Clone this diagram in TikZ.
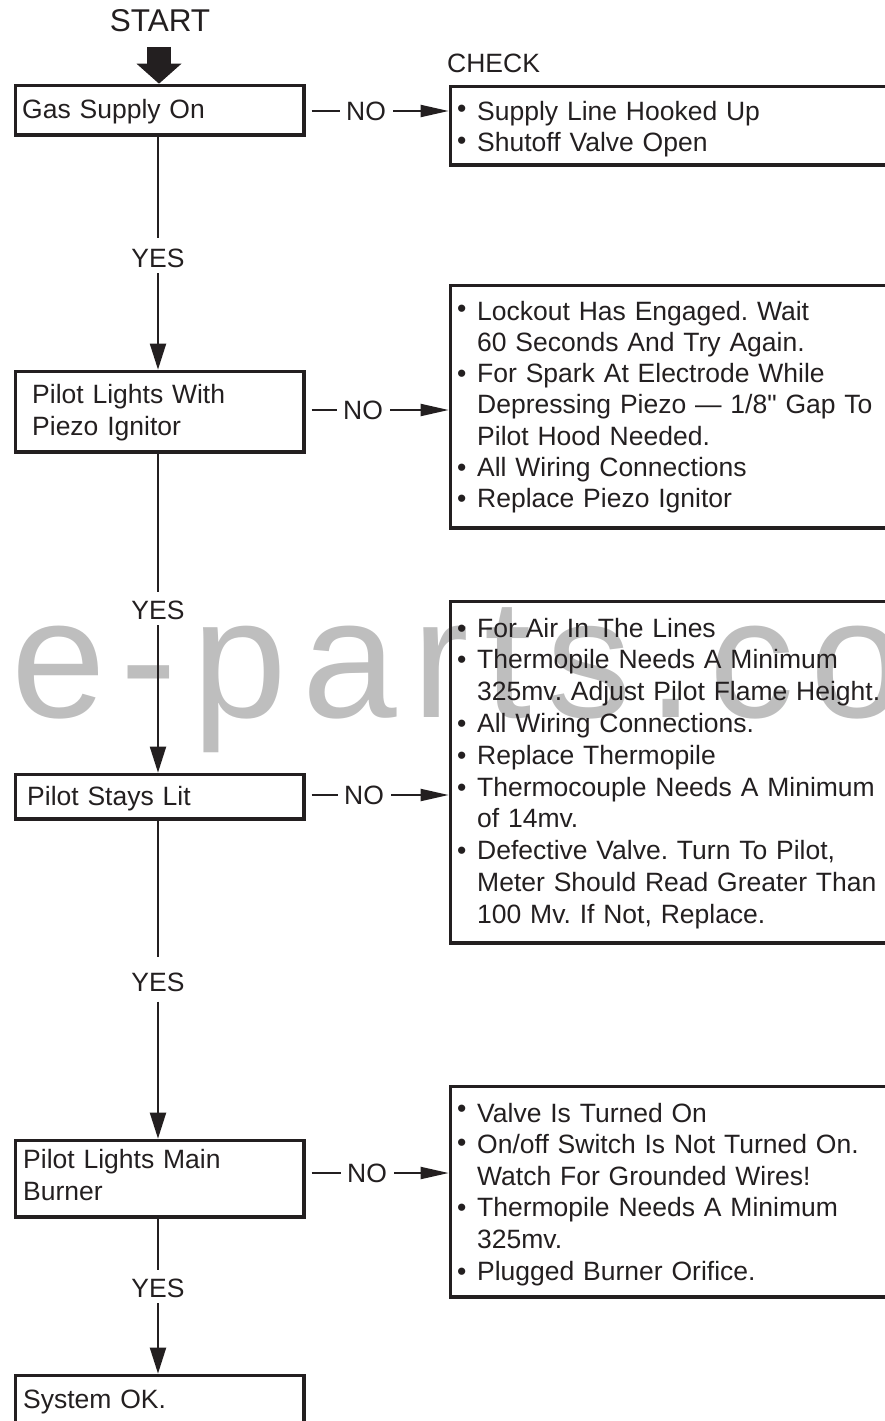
\documentclass[tikz,border=0pt]{standalone}
\usepackage{fontspec}
\setmainfont{Liberation Sans}[Ligatures=TeXOff]
\newfontfamily\wmfont{Liberation Sans}[LetterSpace=9]
\usetikzlibrary{arrows.meta}
\definecolor{ink}{HTML}{231F20}
\definecolor{wm}{HTML}{BEBEBE}
\newcommand{\bul}{\makebox[20pt][l]{\textbullet}}
\newcommand{\bulup}[1]{\makebox[20pt][l]{\raisebox{#1}{\textbullet}}}
\newcommand{\ind}{\hspace*{20pt}}
\frenchspacing
\begin{document}
\frenchspacing
\begin{tikzpicture}[x=1pt,y=-1pt,
  box/.style={draw=ink, line width=3.3pt, inner sep=0pt, anchor=north west},
  txt/.style={anchor=base west, inner sep=0pt, align=left, text width=430pt, text=ink},
  lbl/.style={inner sep=0pt, text=ink},
  conn/.style={draw=ink, line width=2pt},
  varrow/.style={conn, -{Triangle[length=26pt,width=16pt]}},
  harrow/.style={conn, -{Triangle[length=28pt,width=12pt]}},
  font=\fontsize{26.5}{32}\selectfont\frenchspacing]
\useasboundingbox (0,0) rectangle (885,1421);
\clip (0,0) rectangle (885,1421);

% watermark
\node[anchor=base west, inner sep=0pt, text=wm, font=\wmfont\fontsize{170}{170}\selectfont] (wmark) at (11,717) {e-parts.co};

% left boxes
\node[box, minimum width=288.7pt, minimum height=49.7pt] (b1) at (13.65,83.65) {};
\node[box, minimum width=288.7pt, minimum height=80.7pt] (b2) at (13.65,369.65) {};
\node[box, minimum width=288.7pt, minimum height=44.7pt] (b3) at (13.65,772.65) {};
\node[box, minimum width=288.7pt, minimum height=76.7pt] (b4) at (13.65,1138.65) {};
\node[box, minimum width=288.7pt, minimum height=76.7pt] (b5) at (13.65,1373.65) {};

\node[txt] (t1) at (22,118) {Gas Supply On};
\node[txt] (t2) at (32,403) {Pilot Lights With\\Piezo Ignitor};
\node[txt] (t3) at (27,805) {Pilot Stays Lit};
\node[txt] (t4) at (23,1168) {Pilot Lights Main\\Burner};
\node[txt] (t5) at (23,1408) {System OK.};

% right boxes
\node[box, minimum width=480pt, minimum height=78.7pt] (r1) at (448.65,84.65) {};
\node[box, minimum width=480pt, minimum height=242.7pt] (r2) at (448.65,283.65) {};
\node[box, minimum width=480pt, minimum height=341.7pt] (r3) at (448.65,599.65) {};
\node[box, minimum width=480pt, minimum height=210.7pt] (r4) at (448.65,1084.65) {};

\node[txt] (rt1) at (457,120) {\bulup{3pt}Supply Line Hooked Up\\\bulup{3pt}Shutoff Valve Open};
\node[txt, font=\fontsize{26.5}{31.3}\selectfont\frenchspacing] (rt2) at (457,320) {\bulup{3pt}Lockout Has Engaged. Wait\\\ind 60 Seconds And Try Again.\\\bul For Spark At Electrode While\\\ind Depressing Piezo — 1/8" Gap To\\\ind Pilot Hood Needed.\\\bul All Wiring Connections\\\bul Replace Piezo Ignitor};
\node[txt, font=\fontsize{26.5}{31.8}\selectfont\frenchspacing] (rt3) at (457,637) {\bul For Air In The Lines\\\bul Thermopile Needs A Minimum\\\ind 325mv. Adjust Pilot Flame Height.\\\bul All Wiring Connections.\\\bul Replace Thermopile\\\bul Thermocouple Needs A Minimum\\\ind of 14mv.\\\bul Defective Valve. Turn To Pilot,\\\ind Meter Should Read Greater Than\\\ind 100 Mv. If Not, Replace.};
\node[txt, font=\fontsize{26.5}{31.6}\selectfont\frenchspacing] (rt4) at (457,1122) {\bulup{5pt}Valve Is Turned On\\\bulup{2pt}On/off Switch Is Not Turned On.\\\ind Watch For Grounded Wires!\\\bul Thermopile Needs A Minimum\\\ind 325mv.\\\bul Plugged Burner Orifice.};

% top labels
\node[lbl, anchor=base, font=\fontsize{31.5}{36}\selectfont] (start) at (160,32) {START};
\node[lbl, anchor=base west] (check) at (447,73) {CHECK};
\coordinate (s0) at (159,47);
\draw[draw=ink, line width=24pt, -{Triangle[length=20pt,width=45pt,line width=0pt]}] (s0) -- (s0 |- b1.north);

% NO labels and connectors
\node[lbl] (no1) at (366,111) {NO};
\node[lbl] (no2) at (363,410) {NO};
\node[lbl] (no3) at (364,795) {NO};
\node[lbl] (no4) at (367,1173) {NO};
\foreach \b/\n/\r in {b1/no1/r1, b2/no2/r2, b3/no3/r3, b4/no4/r4} {
  \draw[conn, shorten <=6pt, shorten >=6pt] (\b.east |- \n) -- (\n.west);
  \draw[harrow, shorten <=7pt] (\n.east) -- (\r.west |- \n);
}

% YES labels and connectors
\node[lbl] (yes1) at (158,258) {YES};
\node[lbl] (yes2) at (158,610) {YES};
\node[lbl] (yes3) at (158,982) {YES};
\node[lbl] (yes4) at (158,1288) {YES};
\draw[conn, shorten >=10pt] (b1.south -| yes1) -- (yes1.north);
\draw[varrow, shorten <=5.5pt] (yes1.south) -- (b2.north -| yes1);
\draw[conn, shorten >=8.5pt] (b2.south -| yes2) -- (yes2.north);
\draw[varrow, shorten <=5.5pt] (yes2.south) -- (b3.north -| yes2);
\draw[conn, shorten >=15pt] (b3.south -| yes3) -- (yes3.north);
\draw[varrow, shorten <=10pt] (yes3.south) -- (b4.north -| yes3);
\draw[conn, shorten >=8.5pt] (b4.south -| yes4) -- (yes4.north);
\draw[varrow, shorten <=5.5pt] (yes4.south) -- (b5.north -| yes4);
\end{tikzpicture}
\end{document}
